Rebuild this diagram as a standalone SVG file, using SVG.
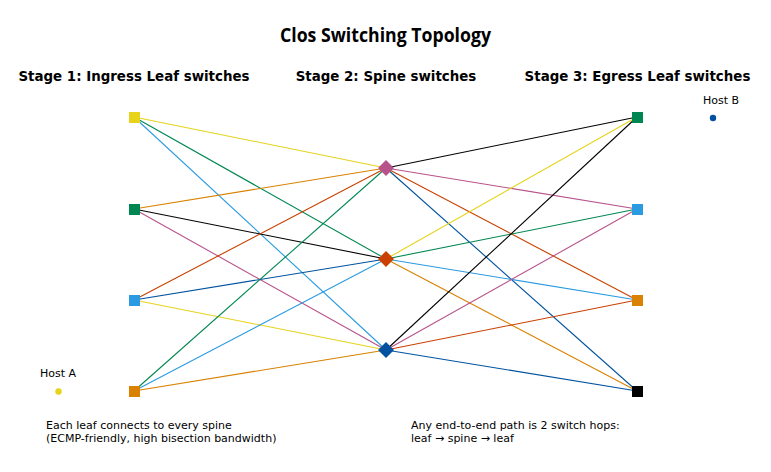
<svg xmlns="http://www.w3.org/2000/svg" width="771" height="472" viewBox="0 0 771 472">
<style>
text{font-family:"DejaVu Sans","Liberation Sans",sans-serif;fill:#000}
.title{font-family:"Open Sans","Noto Sans",sans-serif;font-weight:bold;font-size:19px;text-anchor:middle}
.stage{font-weight:bold;font-size:13.4px;text-anchor:middle}
.small{font-size:11px}
#edges line{stroke-width:1.1;fill:none}
</style>
<rect width="771" height="472" fill="#fff"/>
<text class="title" x="385.5" y="42" textLength="211" lengthAdjust="spacingAndGlyphs">Clos Switching Topology</text>
<text class="stage" x="134" y="81">Stage 1: Ingress Leaf switches</text>
<text class="stage" x="386" y="81">Stage 2: Spine switches</text>
<text class="stage" x="637.5" y="81">Stage 3: Egress Leaf switches</text>
<g id="edges">
<line x1="134" y1="117" x2="386" y2="168" stroke="#E6D31A"/>
<line x1="134" y1="117" x2="386" y2="259" stroke="#008751"/>
<line x1="134" y1="117" x2="386" y2="350" stroke="#2A9BE0"/>
<line x1="134" y1="209" x2="386" y2="168" stroke="#D98200"/>
<line x1="134" y1="209" x2="386" y2="259" stroke="#000"/>
<line x1="134" y1="209" x2="386" y2="350" stroke="#B8538A"/>
<line x1="134" y1="300" x2="386" y2="168" stroke="#C94000"/>
<line x1="134" y1="300" x2="386" y2="259" stroke="#0052A0"/>
<line x1="134" y1="300" x2="386" y2="350" stroke="#E6D31A"/>
<line x1="134" y1="391" x2="386" y2="168" stroke="#008751"/>
<line x1="134" y1="391" x2="386" y2="259" stroke="#2A9BE0"/>
<line x1="134" y1="391" x2="386" y2="350" stroke="#D98200"/>
<line x1="386" y1="168" x2="637" y2="117" stroke="#000"/>
<line x1="386" y1="168" x2="637" y2="209" stroke="#B8538A"/>
<line x1="386" y1="168" x2="637" y2="300" stroke="#C94000"/>
<line x1="386" y1="168" x2="637" y2="391" stroke="#0052A0"/>
<line x1="386" y1="259" x2="637" y2="117" stroke="#E6D31A"/>
<line x1="386" y1="259" x2="637" y2="209" stroke="#008751"/>
<line x1="386" y1="259" x2="637" y2="300" stroke="#2A9BE0"/>
<line x1="386" y1="259" x2="637" y2="391" stroke="#D98200"/>
<line x1="386" y1="350" x2="637" y2="117" stroke="#000"/>
<line x1="386" y1="350" x2="637" y2="209" stroke="#B8538A"/>
<line x1="386" y1="350" x2="637" y2="300" stroke="#C94000"/>
<line x1="386" y1="350" x2="637" y2="391" stroke="#0052A0"/>
</g>
<g id="L1"><rect x="129" y="112" width="11" height="11" fill="#E6D31A"/></g>
<g id="L2"><rect x="129" y="204" width="11" height="11" fill="#008751"/></g>
<g id="L3"><rect x="129" y="295" width="11" height="11" fill="#2A9BE0"/></g>
<g id="L4"><rect x="129" y="386" width="11" height="11" fill="#D98200"/></g>
<g id="S1"><polygon points="386,160 394,168 386,176 378,168" fill="#B8538A"/></g>
<g id="S2"><polygon points="386,251 394,259 386,267 378,259" fill="#C94000"/></g>
<g id="S3"><polygon points="386,342 394,350 386,358 378,350" fill="#0052A0"/></g>
<g id="R1"><rect x="632" y="112" width="11" height="11" fill="#008751"/></g>
<g id="R2"><rect x="632" y="204" width="11" height="11" fill="#2A9BE0"/></g>
<g id="R3"><rect x="632" y="295" width="11" height="11" fill="#D98200"/></g>
<g id="R4"><rect x="632" y="386" width="11" height="11" fill="#000"/></g>
<g id="hostA"><circle cx="58.5" cy="391.5" r="3.2" fill="#E6D31A"/><text class="small" x="40" y="377">Host A</text></g>
<g id="hostB"><circle cx="713" cy="118" r="3.2" fill="#0052A0"/><text class="small" x="703" y="104">Host B</text></g>
<text class="small" x="46" y="429">Each leaf connects to every spine</text>
<text class="small" x="46" y="442">(ECMP-friendly, high bisection bandwidth)</text>
<text class="small" x="411" y="429">Any end-to-end path is 2 switch hops:</text>
<text class="small" x="411" y="442">leaf → spine → leaf</text>
</svg>
